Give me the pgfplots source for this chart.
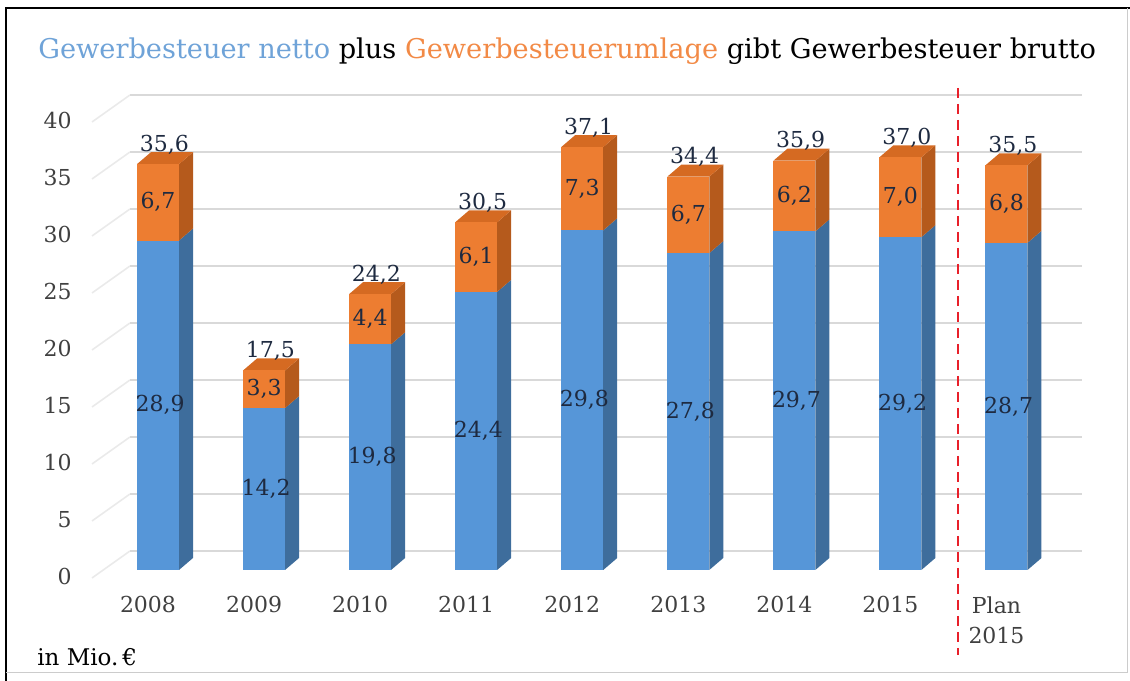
\documentclass[border=0pt]{standalone}
\usepackage{fontspec}
\setmainfont{DejaVu Serif}
\usepackage{pgfplots}
\usepackage{pgfplotstable}
\pgfplotsset{compat=1.18}

\definecolor{bluefront}{HTML}{5696D8}
\definecolor{blueside}{HTML}{3E6D9C}
\definecolor{orfront}{HTML}{ED7D31}
\definecolor{orside}{HTML}{B55A1C}
\definecolor{ortop}{HTML}{D56A22}
\definecolor{gridc}{HTML}{D9D9D9}
\definecolor{gridd}{HTML}{EAEAEA}
\definecolor{labc}{HTML}{1E2A40}
\definecolor{tickc}{HTML}{404040}
\definecolor{titleblue}{HTML}{6FA3D8}
\definecolor{titleorange}{HTML}{F28A46}
\definecolor{redline}{HTML}{E8202A}

\pgfplotstableread{
x net uml top
0 28.9 6.7 35.6
1 14.2 3.3 17.5
2 19.8 4.4 24.2
3 24.4 6.1 30.5
4 29.8 7.3 37.1
5 27.8 6.7 34.4
6 29.7 6.2 35.9
7 29.2 7.0 37.0
8 28.7 6.8 35.5
}\data

\pgfplotsset{
  vallab/.style={draw=none, mark=none, nodes near coords, point meta=explicit,
    /pgf/number format/.cd, assume math mode=true, use comma, fixed, fixed zerofill, precision=1, /pgfplots/.cd},
}

\begin{document}
\begin{tikzpicture}
\begin{axis}[
  width=565pt, height=340.5pt, scale only axis,
  xmin=-1.4897, xmax=9.1646, ymin=-9.737, ymax=50,
  clip=false,
  axis line style={draw=none},
  tick style={draw=none},
  major tick length=0pt,
  ytick={0,5,...,40},
  yticklabel style={anchor=east, inner sep=0pt, xshift=36pt, yshift=-3.5pt, text=tickc, font=\fontsize{11}{12}\selectfont},
  xtick={0,...,8},
  xticklabels={2008,2009,2010,2011,2012,2013,2014,2015,{Plan\\2015}},
  xticklabel style={anchor=north, align=center, inner sep=0pt, yshift=42.5pt, xshift=-5pt, text=tickc, font=\fontsize{11}{15}\selectfont},
  /pgf/number format/assume math mode=true,
]
% grid lines (back wall and side wall)
\foreach \v in {0,5,...,40} {
  \pgfmathsetmacro\ya{\v-0.7}
  \pgfmathsetmacro\yb{\v+1.667}
  \edef\cmd{\noexpand\addplot[gridd, line width=0.8pt] coordinates {(-0.622,\ya) (-0.264,\yb)};
  \noexpand\addplot[gridc, line width=1pt] coordinates {(-0.264,\yb) (8.712,\yb)};}
  \cmd
}
% 3D bars
\foreach \r in {0,...,8} {
  \pgfplotstablegetelem{\r}{net}\of\data \let\net\pgfplotsretval
  \pgfplotstablegetelem{\r}{uml}\of\data \let\uml\pgfplotsretval
  \pgfmathsetmacro\tot{\net+\uml}
  \pgfmathsetmacro\xl{\r-0.198}
  \pgfmathsetmacro\xr{\r+0.198}
  \pgfmathsetmacro\xll{\xl+0.132}
  \pgfmathsetmacro\xrr{\xr+0.132}
  \pgfmathsetmacro\nd{\net+1.053}
  \pgfmathsetmacro\td{\tot+1.053}
  \edef\cmd{%
  \noexpand\addplot[fill=blueside, draw=none] coordinates {(\xr,0) (\xrr,1.053) (\xrr,\nd) (\xr,\net)};
  \noexpand\addplot[fill=orside, draw=none] coordinates {(\xr,\net) (\xrr,\nd) (\xrr,\td) (\xr,\tot)};
  \noexpand\addplot[fill=ortop, draw=none] coordinates {(\xl,\tot) (\xr,\tot) (\xrr,\td) (\xll,\td)};
  \noexpand\addplot[fill=orfront, draw=none] coordinates {(\xl,\net) (\xr,\net) (\xr,\tot) (\xl,\tot)};
  \noexpand\addplot[fill=bluefront, draw=none] coordinates {(\xl,0) (\xr,0) (\xr,\net) (\xl,\net)};
  }\cmd
}
% labels
\addplot[vallab, nodes near coords style={anchor=center, text=labc, font=\fontsize{11}{12}\selectfont}]
  table[x expr=\thisrow{x}+0.02, y expr=\thisrow{net}/2, meta=net] {\data};
\addplot[vallab, nodes near coords style={anchor=center, text=labc, font=\fontsize{11}{12}\selectfont}]
  table[x expr=\thisrow{x}, y expr=\thisrow{net}+\thisrow{uml}/2, meta=uml] {\data};
\addplot[vallab, nodes near coords style={anchor=base, inner sep=0pt, yshift=6.5pt, text=labc, font=\fontsize{11}{12}\selectfont}]
  table[x expr=\thisrow{x}+0.06, y expr=\thisrow{net}+\thisrow{uml}, meta=top] {\data};
% red dashed separator
\addplot[redline, line width=1.25pt, dash pattern=on 5pt off 3pt] coordinates {(7.543,42.28) (7.543,-7.46)};
% title and unit
\node[anchor=base west, inner sep=0pt, font=\fontsize{13.6}{15}\selectfont] at (rel axis cs:0.0336,0.9148)
  {\textcolor{titleblue}{Gewerbesteuer netto} plus \textcolor{titleorange}{Gewerbesteuerumlage} gibt Gewerbesteuer brutto};
\node[anchor=base west, inner sep=0pt, font=\fontsize{11.5}{13}\selectfont] at (rel axis cs:0.0327,0.022) {in Mio.\,€};
% frame
\draw[black, line width=1.2pt] (rel axis cs:0.0053,0) -- (rel axis cs:0.0053,0.9883) -- (rel axis cs:1,0.9883);
\draw[gray!40, line width=0.6pt] (rel axis cs:0.9975,0.9883) -- (rel axis cs:0.9975,0.012) -- (rel axis cs:0.0053,0.012);
\end{axis}
\pgfresetboundingbox
\useasboundingbox (current axis.south west) rectangle (current axis.north east);
\end{tikzpicture}
\end{document}
